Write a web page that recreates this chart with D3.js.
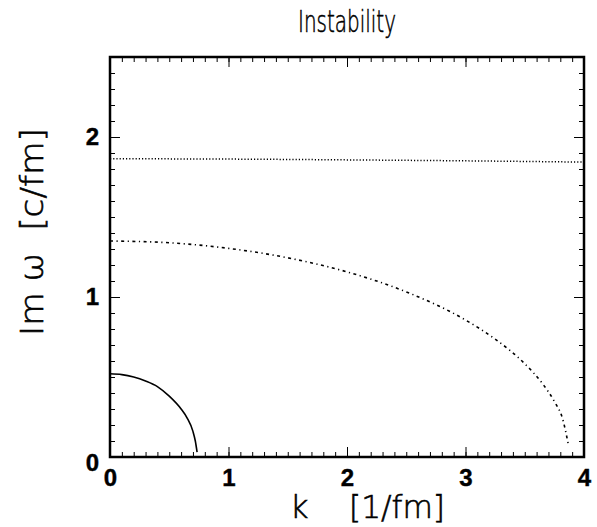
<!DOCTYPE html>
<html>
<head>
<meta charset="utf-8">
<script src="https://cdn.jsdelivr.net/npm/d3@7"></script>
<style>
  body { margin: 0; background: #fff; }
  .thin { font-family: "DejaVu Sans", sans-serif; font-weight: 200; white-space: pre; fill: #000; stroke: #000; stroke-width: 0.6px; }
  .lbl text { font-family: "Liberation Sans", Arial, sans-serif; font-weight: bold; font-size: 24px; fill: #000; stroke: #000; stroke-width: 0.4px; }
</style>
</head>
<body>
<div id="chart"></div>
<script>
// curves: k [1/fm] vs Im w [c/fm]
var kSolid = [0, 0.1, 0.2, 0.3, 0.4, 0.5, 0.6, 0.65, 0.7, 0.72, 0.735];
var wSolid = [0.52, 0.515, 0.50, 0.475, 0.44, 0.38, 0.30, 0.245, 0.16, 0.10, 0.03];

var kDashDot = [0, 0.5, 1, 1.5, 2, 2.5, 3, 3.25, 3.5, 3.65, 3.75, 3.82, 3.87];
var wDashDot = [1.35, 1.339, 1.304, 1.245, 1.157, 1.032, 0.856, 0.737, 0.583, 0.458, 0.347, 0.237, 0.07];

var kDotted = [0, 1, 2, 3, 4];
var wDotted = [1.864, 1.862, 1.857, 1.851, 1.843];

var xTicks = [0, 1, 2, 3, 4];
var yTicks = [0, 1, 2];

var W = 597, H = 527;
var margin = {top: 57, right: 13, bottom: 70, left: 110};
var width = W - margin.left - margin.right,
    height = H - margin.top - margin.bottom;

var svg = d3.select("#chart").append("svg")
    .attr("width", W)
    .attr("height", H);

var g = svg.append("g")
    .attr("transform", "translate(" + margin.left + "," + margin.top + ")");

var x = d3.scaleLinear().domain([0, 4]).range([0, width]);
var y = d3.scaleLinear().domain([0, 2.5]).range([height, 0]);

// minor / major ticks on all four sides, pointing inwards
var xMinor = d3.range(0, 41).map(function(i) { return i / 10; });
var yMinor = d3.range(0, 26).map(function(i) { return i / 10; });

function ticks(axis, scale, values, size, tr) {
  var a = g.append("g")
      .attr("transform", tr)
      .call(axis(scale).tickValues(values).tickSize(-size).tickFormat(""));
  a.select(".domain").remove();
  a.selectAll("line").attr("stroke", "#000").attr("stroke-width", 1);
}
ticks(d3.axisBottom, x, xMinor, 5, "translate(0," + height + ")");
ticks(d3.axisBottom, x, xTicks, 10, "translate(0," + height + ")");
ticks(d3.axisTop, x, xMinor, 5, "translate(0,0)");
ticks(d3.axisTop, x, xTicks, 10, "translate(0,0)");
ticks(d3.axisLeft, y, yMinor, 5, "translate(0,0)");
ticks(d3.axisLeft, y, yTicks, 10, "translate(0,0)");
ticks(d3.axisRight, y, yMinor, 5, "translate(" + width + ",0)");
ticks(d3.axisRight, y, yTicks, 10, "translate(" + width + ",0)");

// tick labels
var xl = g.append("g")
    .attr("class", "lbl")
    .attr("transform", "translate(0," + height + ")")
    .call(d3.axisBottom(x).tickValues(xTicks).tickSize(0).tickPadding(12).tickFormat(d3.format("d")));
xl.select(".domain").remove();

var yl = g.append("g")
    .attr("class", "lbl")
    .call(d3.axisLeft(y).tickValues(yTicks).tickSize(0).tickPadding(11).tickFormat(d3.format("d")));
yl.select(".domain").remove();
yl.selectAll(".tick").filter(function(d) { return d === 0; }).select("text").attr("dy", "0.55em");

// frame
g.append("rect")
    .attr("width", width)
    .attr("height", height)
    .attr("fill", "none")
    .attr("stroke", "#000")
    .attr("stroke-width", 2.5);

var line = d3.line()
    .x(function(d) { return x(d[0]); })
    .y(function(d) { return y(d[1]); })
    .curve(d3.curveMonotoneX);

g.append("path")
    .datum(d3.zip(kSolid, wSolid))
    .attr("d", line)
    .attr("fill", "none")
    .attr("stroke", "#000")
    .attr("stroke-width", 1.6);

g.append("path")
    .datum(d3.zip(kDashDot, wDashDot))
    .attr("d", line)
    .attr("fill", "none")
    .attr("stroke", "#000")
    .attr("stroke-width", 1.6)
    .attr("stroke-dasharray", "3,3.5,1.2,3.5");

g.append("path")
    .datum(d3.zip(kDotted, wDotted))
    .attr("d", line)
    .attr("fill", "none")
    .attr("stroke", "#000")
    .attr("stroke-width", 1.5)
    .attr("stroke-dasharray", "1.2,2");

// titles
svg.append("text")
    .attr("class", "thin")
    .attr("x", 347)
    .attr("y", 32)
    .attr("text-anchor", "middle")
    .attr("textLength", 98)
    .attr("lengthAdjust", "spacingAndGlyphs")
    .style("font-size", "31px")
    .text("Instability");

svg.append("text")
    .attr("class", "thin")
    .attr("x", 290)
    .attr("y", 518)
    .style("font-size", "32px")
    .text("k");

svg.append("text")
    .attr("class", "thin")
    .attr("x", 349)
    .attr("y", 518)
    .attr("textLength", 96)
    .attr("lengthAdjust", "spacingAndGlyphs")
    .style("font-size", "32px")
    .text("[1/fm]");

svg.append("text")
    .attr("class", "thin")
    .attr("transform", "translate(43,232) rotate(-90)")
    .attr("text-anchor", "middle")
    .attr("textLength", 208)
    .attr("lengthAdjust", "spacingAndGlyphs")
    .style("font-size", "32px")
    .text("Im ω  [c/fm]");
</script>
</body>
</html>
